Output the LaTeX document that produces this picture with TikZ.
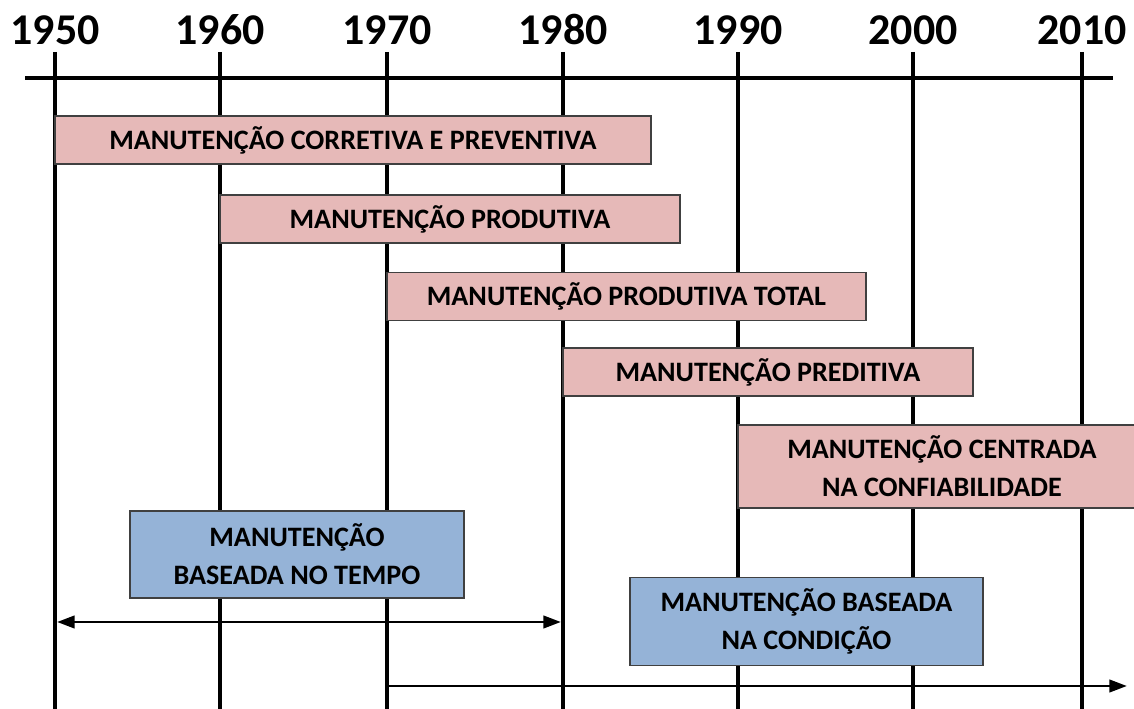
\documentclass[tikz,border=0pt]{standalone}
\usepackage{fontspec}
\setmainfont{Carlito}
\usetikzlibrary{arrows.meta}
\definecolor{pinkfill}{HTML}{E6B9B8}
\definecolor{bluefill}{HTML}{95B3D7}
\definecolor{boxline}{HTML}{404040}
\begin{document}
\begin{tikzpicture}[x=0.02cm, y=-0.02cm,
  >={Triangle[length=10pt,width=7pt]},
  yearlabel/.style={font=\fontsize{25}{28}\selectfont\bfseries, inner sep=1pt},
  gridline/.style={line width=1.9pt},
  pinkbox/.style={draw=boxline, line width=0.9pt, fill=pinkfill, inner sep=0pt, align=center, font=\fontsize{16}{21.5}\selectfont\bfseries},
  bluebox/.style={pinkbox, fill=bluefill},
  span/.style={line width=1.7pt}
]
\useasboundingbox (0,0) rectangle (1134,709);

% years and grid lines
\foreach \yr/\x in {1950/55, 1960/220, 1970/387, 1980/563, 1990/738, 2000/913, 2010/1082} {
  \node[yearlabel] (y\yr) at (\x,30) {\yr};
  \coordinate (t\yr) at (\x,52);
  \coordinate (b\yr) at (\x,709);
  \draw[gridline] (t\yr) -- (b\yr);
}
\coordinate (axL) at (25,78);
\coordinate (axR) at (1113,78);
\draw[gridline] (axL) -- (axR);

% maintenance approaches
\node[pinkbox, minimum width=11.92cm, minimum height=0.96cm] (corretiva) at (353,140) {MANUTENÇÃO CORRETIVA E PREVENTIVA};
\node[pinkbox, minimum width=9.2cm, minimum height=0.96cm] (produtiva) at (450,219) {MANUTENÇÃO PRODUTIVA};
\node[pinkbox, minimum width=9.58cm, minimum height=0.96cm] (total) at (626.5,296.5) {MANUTENÇÃO PRODUTIVA TOTAL};
\node[pinkbox, minimum width=8.2cm, minimum height=0.96cm] (preditiva) at (768,372) {MANUTENÇÃO PREDITIVA};
\node[pinkbox, minimum width=8.16cm, minimum height=1.66cm] (centrada) at (942,466.5) {MANUTENÇÃO CENTRADA\\NA CONFIABILIDADE};

\node[bluebox, minimum width=6.68cm, minimum height=1.74cm] (tempo) at (297,554.5) {MANUTENÇÃO\\BASEADA NO TEMPO};
\node[bluebox, minimum width=7.06cm, minimum height=1.76cm] (condicao) at (806.5,621.5) {MANUTENÇÃO BASEADA\\NA CONDIÇÃO};

% spans
\coordinate (tempoL) at (57,622);
\coordinate (tempoR) at (561,622);
\draw[span, <->] (tempoL) -- (tempoR);
\coordinate (condL) at (389,686);
\coordinate (condR) at (1127,686);
\draw[span, ->] (condL) -- (condR);
\end{tikzpicture}
\end{document}
